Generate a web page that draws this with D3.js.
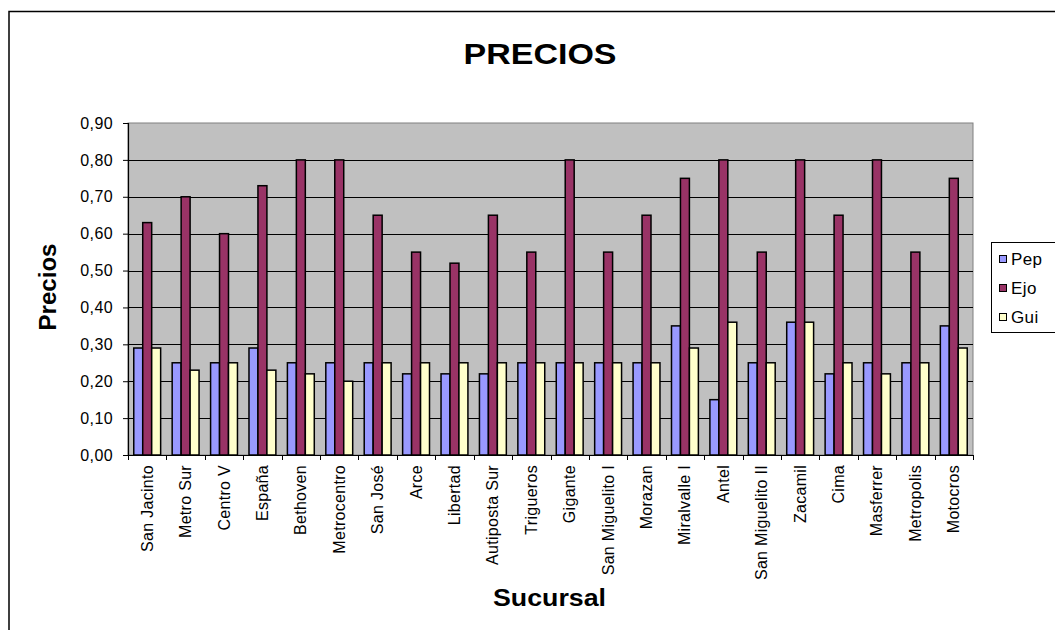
<!DOCTYPE html>
<html lang="es">
  <head>
    <meta charset="utf-8">
    <title>PRECIOS</title>
    <script src="https://cdn.jsdelivr.net/npm/d3@7"></script>
    <style>
      body { margin: 0; background: #fff; }
      text { font-family: Arial, "Liberation Sans", sans-serif; }
    </style>
  </head>
  <body>
    <script>
      var sucursales = ["San Jacinto", "Metro Sur", "Centro V", "España", "Bethoven", "Metrocentro",
        "San José", "Arce", "Libertad", "Autiposta Sur", "Trigueros", "Gigante", "San Miguelito I",
        "Morazan", "Miralvalle I", "Antel", "San Miguelito II", "Zacamil", "Cima", "Masferrer",
        "Metropolis", "Motocros"];
      var series = ["Pep", "Ejo", "Gui"];
      var pep = [0.29, 0.25, 0.25, 0.29, 0.25, 0.25, 0.25, 0.22, 0.22, 0.22, 0.25,
                 0.25, 0.25, 0.25, 0.35, 0.15, 0.25, 0.36, 0.22, 0.25, 0.25, 0.35];
      var ejo = [0.63, 0.70, 0.60, 0.73, 0.80, 0.80, 0.65, 0.55, 0.52, 0.65, 0.55,
                 0.80, 0.55, 0.65, 0.75, 0.80, 0.55, 0.80, 0.65, 0.80, 0.55, 0.75];
      var gui = [0.29, 0.23, 0.25, 0.23, 0.22, 0.20, 0.25, 0.25, 0.25, 0.25, 0.25,
                 0.25, 0.25, 0.25, 0.29, 0.36, 0.25, 0.36, 0.25, 0.22, 0.25, 0.29];
      var yTicks = [0, 0.1, 0.2, 0.3, 0.4, 0.5, 0.6, 0.7, 0.8, 0.9];
      var colors = ["#9999ff", "#993366", "#ffffcc"];

      var w = 1055, h = 630;
      var plotL = 128, plotR = 973, plotT = 123, plotB = 455;

      var rows = sucursales.map(function (s, i) {
        return { name: s, values: [pep[i], ejo[i], gui[i]] };
      });

      var svg = d3.select("body").append("svg")
                  .attr("width", w)
                  .attr("height", h);

      // outer chart border (runs off right / bottom edges)
      svg.append("rect")
         .attr("x", 9).attr("y", 11.5)
         .attr("width", w + 20).attr("height", h + 20)
         .attr("fill", "#fff")
         .attr("stroke", "#000").attr("stroke-width", 1.5);

      var x0 = d3.scaleBand()
                 .domain(sucursales)
                 .range([plotL, plotR])
                 .paddingInner(0.3)
                 .paddingOuter(0.15);
      var x1 = d3.scaleBand()
                 .domain(series)
                 .range([0, x0.bandwidth()]);
      var y = d3.scaleLinear()
                .domain([0, 0.9])
                .range([plotB, plotT]);
      var xEdge = d3.scaleLinear()
                    .domain([0, sucursales.length])
                    .range([plotL, plotR]);

      var fmt = d3.formatLocale({ decimal: ",", thousands: ".", grouping: [3], currency: ["", ""] }).format(".2f");

      // plot area
      svg.append("rect")
         .attr("x", plotL).attr("y", plotT)
         .attr("width", plotR - plotL).attr("height", plotB - plotT)
         .attr("fill", "#c0c0c0")
         .attr("stroke", "#808080").attr("stroke-width", 1);

      svg.append("g")
         .selectAll("line")
         .data(yTicks.slice(1, -1))
         .enter().append("line")
         .attr("x1", plotL).attr("x2", plotR)
         .attr("y1", function (d) { return Math.round(y(d)) + 0.5; })
         .attr("y2", function (d) { return Math.round(y(d)) + 0.5; })
         .attr("stroke", "#000").attr("stroke-width", 1);

      // bars
      var groups = svg.append("g")
         .selectAll("g")
         .data(rows)
         .enter().append("g")
         .attr("transform", function (d) { return "translate(" + x0(d.name) + ",0)"; });

      groups.selectAll("rect")
         .data(function (d) { return d.values.map(function (v, j) { return { s: series[j], v: v, c: colors[j] }; }); })
         .enter().append("rect")
         .attr("x", function (d) { return x1(d.s); })
         .attr("y", function (d) { return y(d.v); })
         .attr("width", x1.bandwidth())
         .attr("height", function (d) { return plotB - y(d.v); })
         .attr("fill", function (d) { return d.c; })
         .attr("stroke", "#000").attr("stroke-width", 1.5);

      // y axis
      var yAxis = svg.append("g")
         .attr("transform", "translate(" + plotL + ",0)")
         .call(d3.axisLeft(y).tickValues(yTicks).tickFormat(fmt).tickSize(5).tickPadding(10));
      yAxis.select(".domain").attr("stroke", "#000").attr("stroke-width", 1.2);
      yAxis.selectAll(".tick line").attr("stroke", "#000");
      yAxis.selectAll("text")
           .attr("font-size", "16px")
           .attr("letter-spacing", "0.4px")
           .attr("fill", "#000")
           .attr("font-family", "Arial, 'Liberation Sans', sans-serif");

      // x axis: ticks between categories
      svg.append("line")
         .attr("x1", plotL).attr("x2", plotR)
         .attr("y1", plotB + 0.5).attr("y2", plotB + 0.5)
         .attr("stroke", "#000").attr("stroke-width", 1.2);
      svg.append("g")
         .selectAll("line")
         .data(d3.range(sucursales.length + 1))
         .enter().append("line")
         .attr("x1", function (d) { return Math.round(xEdge(d)) + 0.5; })
         .attr("x2", function (d) { return Math.round(xEdge(d)) + 0.5; })
         .attr("y1", plotB).attr("y2", plotB + 5)
         .attr("stroke", "#000");

      svg.append("g")
         .selectAll("text")
         .data(sucursales)
         .enter().append("text")
         .attr("transform", function (d) {
           return "translate(" + (x0(d) + x0.bandwidth() / 2 + 5.5) + "," + (plotB + 10) + ") rotate(-90)";
         })
         .attr("text-anchor", "end")
         .attr("font-size", "16px")
         .attr("letter-spacing", "0.3px")
         .text(function (d) { return d; });

      // titles
      svg.append("text")
         .attr("x", 540).attr("y", 64)
         .attr("text-anchor", "middle")
         .attr("font-size", "30px").attr("font-weight", "bold")
         .attr("textLength", 153).attr("lengthAdjust", "spacingAndGlyphs")
         .text("PRECIOS");

      svg.append("text")
         .attr("x", 549.5).attr("y", 606)
         .attr("text-anchor", "middle")
         .attr("font-size", "23px").attr("font-weight", "bold")
         .attr("textLength", 113).attr("lengthAdjust", "spacingAndGlyphs")
         .text("Sucursal");

      svg.append("text")
         .attr("transform", "translate(56,287) rotate(-90)")
         .attr("text-anchor", "middle")
         .attr("font-size", "24px").attr("font-weight", "bold")
         .attr("textLength", 87).attr("lengthAdjust", "spacingAndGlyphs")
         .text("Precios");

      // legend (clipped by the window on the right)
      var legend = svg.append("g");
      legend.append("rect")
            .attr("x", 991.5).attr("y", 242.5)
            .attr("width", 100).attr("height", 90)
            .attr("fill", "#fff")
            .attr("stroke", "#000").attr("stroke-width", 1);
      var items = legend.selectAll("g.item")
            .data(series)
            .enter().append("g")
            .attr("class", "item")
            .attr("transform", function (d, i) { return "translate(999," + (259 + i * 29) + ")"; });
      items.append("rect")
           .attr("x", 0.5).attr("y", -3.5)
           .attr("width", 7).attr("height", 7)
           .attr("fill", function (d, i) { return colors[i]; })
           .attr("stroke", "#000");
      items.append("text")
           .attr("x", 12).attr("y", 6)
           .attr("font-size", "17px")
           .attr("letter-spacing", "0.4px")
           .text(function (d) { return d; });
    </script>
  </body>
</html>
